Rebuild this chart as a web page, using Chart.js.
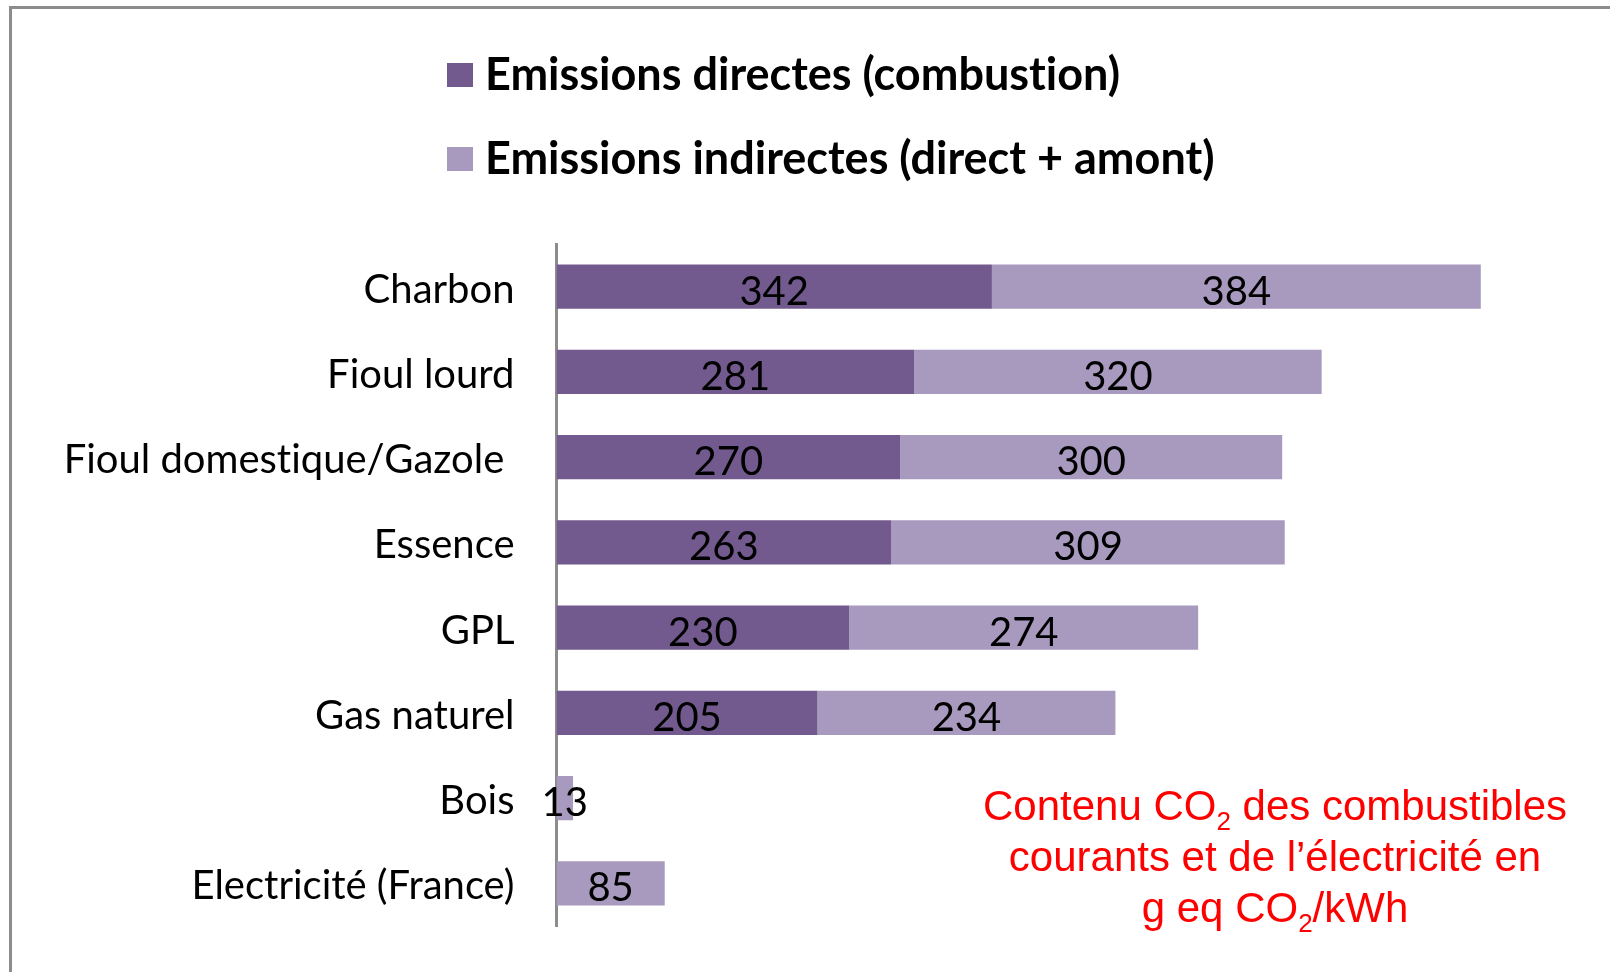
<!DOCTYPE html>
<html lang="fr">
<head>
<meta charset="utf-8">
<title>Contenu CO2 des combustibles</title>
<script src="https://cdn.jsdelivr.net/npm/chart.js@4.4.0/dist/chart.umd.min.js"></script>
<style>
  html, body { margin: 0; padding: 0; background: #fff; overflow: hidden; }
  #wrap { position: relative; width: 1610px; height: 972px; }
  #frame {
    position: absolute; left: 9px; top: 6px; right: -20px; bottom: -20px;
    border-left: 3px solid #8c8c8c; border-top: 3px solid #8c8c8c;
  }
  #box { position: absolute; left: 0; top: 0; width: 1610px; height: 972px; }
</style>
</head>
<body>
<div id="wrap">
  <div id="frame"></div>
  <div id="box"><canvas id="co2Chart"></canvas></div>
</div>
<script>
// Data (g eq CO2/kWh)
const categories = ["Charbon", "Fioul lourd", "Fioul domestique/Gazole ", "Essence", "GPL", "Gas naturel", "Bois", "Electricité (France)"];
const directes = [342, 281, 270, 263, 230, 205, 0, 0];
const indirectes = [384, 320, 300, 309, 274, 234, 13, 85];
const seriesNames = ["Emissions directes (combustion)", "Emissions indirectes (direct + amont)"];

// Red note, each line split into normal / subscript pieces
const noteLines = [
  [["Contenu CO", false], ["2", true], [" des combustibles", false]],
  [["courants et de l\u2019électricité en", false]],
  [["g eq CO", false], ["2", true], ["/kWh", false]]
];

const colors = {
  dark: "#725a8e",
  light: "#a899be",
  axis: "#8c8c8c",
  note: "#ff0000"
};

// no "ti" ligatures, the original font has none
const plainText = {
  id: "plainText",
  beforeDraw(chart) {
    chart.ctx.textRendering = "optimizeSpeed";
  }
};

// Legend stacked in two rows (Chart.js puts items side by side)
const legendRows = {
  id: "legendRows",
  afterDraw(chart) {
    const ctx = chart.ctx;
    ctx.save();
    ctx.font = "bold 45px Lato";
    ctx.textAlign = "left";
    ctx.textBaseline = "middle";
    chart.data.datasets.forEach((ds, i) => {
      const y = 75 + i * 84;
      ctx.fillStyle = ds.backgroundColor;
      ctx.fillRect(447, y - 12, 26, 24);
      ctx.fillStyle = "#000";
      ctx.fillText(ds.label, 485, y);
    });
    ctx.restore();
  }
};

// Values written in the middle of each segment
const barLabels = {
  id: "barLabels",
  afterDraw(chart) {
    const ctx = chart.ctx;
    ctx.save();
    ctx.font = "40px Lato";
    ctx.fillStyle = "#000";
    ctx.textAlign = "center";
    ctx.textBaseline = "middle";
    chart.data.datasets.forEach((ds, i) => {
      chart.getDatasetMeta(i).data.forEach((bar, j) => {
        const v = ds.data[j];
        if (!v) return;
        ctx.fillText(String(v), (bar.base + bar.x) / 2, bar.y + 5);
      });
    });
    ctx.restore();
  }
};

// Red caption at bottom right
const note = {
  id: "note",
  afterDraw(chart) {
    const ctx = chart.ctx;
    const size = 42;
    const cx = 1275;
    ctx.save();
    ctx.fillStyle = colors.note;
    ctx.textAlign = "left";
    ctx.textBaseline = "alphabetic";
    noteLines.forEach((parts, li) => {
      const y = 820 + li * 51;
      let w = 0;
      parts.forEach(([t, sub]) => {
        ctx.font = (sub ? Math.round(size * 0.62) : size) + "px 'Liberation Sans', Arial, sans-serif";
        w += ctx.measureText(t).width;
      });
      let x = cx - w / 2;
      parts.forEach(([t, sub]) => {
        ctx.font = (sub ? Math.round(size * 0.62) : size) + "px 'Liberation Sans', Arial, sans-serif";
        ctx.fillText(t, x, sub ? y + 10 : y);
        x += ctx.measureText(t).width;
      });
    });
    ctx.restore();
  }
};

function build() {
  const ctx = document.getElementById("co2Chart").getContext("2d");
  return new Chart(ctx, {
    type: "bar",
    data: {
      labels: categories,
      datasets: [
        { label: seriesNames[0], data: directes, backgroundColor: colors.dark },
        { label: seriesNames[1], data: indirectes, backgroundColor: colors.light }
      ]
    },
    options: {
      indexAxis: "y",
      responsive: true,
      maintainAspectRatio: false,
      animation: false,
      layout: { padding: { top: 244, bottom: 46, left: 0, right: 35 } },
      datasets: { bar: { barPercentage: 0.517, categoryPercentage: 1 } },
      plugins: {
        legend: { display: false },
        tooltip: { enabled: false }
      },
      scales: {
        x: { stacked: true, display: false, min: 0, max: 800 },
        y: {
          stacked: true,
          z: 1,
          grid: { display: false, drawTicks: false },
          border: { display: true, color: colors.axis, width: 3 },
          ticks: { color: "#000", font: { family: "Lato", size: 40 }, padding: 42, labelOffset: 3 },
          afterFit(scale) {
            scale.width = 556.5;
            // labels sit inside their bands, no extra room needed
            scale.paddingTop = 0;
            scale.paddingBottom = 0;
          }
        }
      }
    },
    plugins: [plainText, legendRows, barLabels, note]
  });
}

Promise.all([
  document.fonts.load("40px Lato"),
  document.fonts.load("bold 45px Lato"),
  document.fonts.load("42px 'Liberation Sans'")
]).then(build, build);
</script>
</body>
</html>
